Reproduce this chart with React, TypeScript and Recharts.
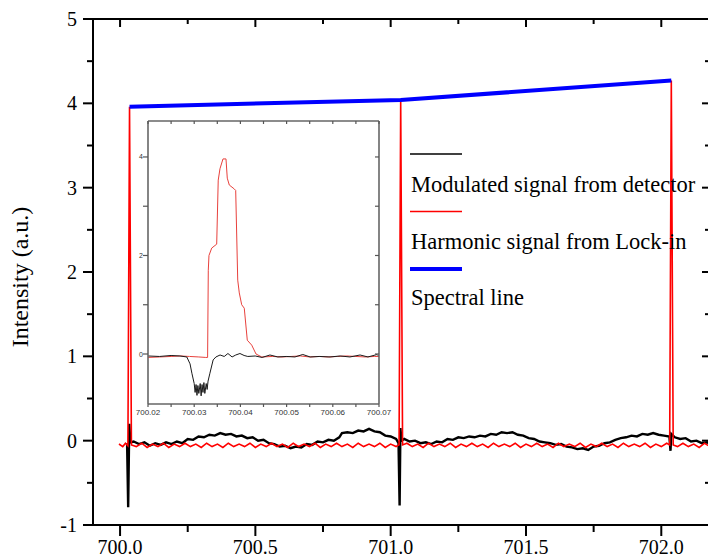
import React from 'react';
import { ComposedChart, Line, XAxis, YAxis, Legend, CartesianGrid } from 'recharts';

// ---------- main chart data ----------
const mainXTicks = [700, 700.25, 700.5, 700.75, 701, 701.25, 701.5, 701.75, 702];
const mainYTicks = [-1, -0.5, 0, 0.5, 1, 1.5, 2, 2.5, 3, 3.5, 4, 4.5, 5];

const modulatedSignal: [number, number][] = [
  [700.026, -0.03], [700.030, -0.79], [700.034, 0.2], [700.038, -0.02],
  [700.05, -0.01], [700.07, -0.04], [700.09, -0.02], [700.11, -0.06], [700.13, -0.03], [700.15, -0.05],
  [700.17, -0.02], [700.19, -0.04], [700.21, -0.01], [700.23, -0.03], [700.25, 0.02], [700.27, 0.01],
  [700.29, 0.05], [700.31, 0.04], [700.33, 0.07], [700.35, 0.06], [700.37, 0.09], [700.39, 0.07],
  [700.41, 0.08], [700.43, 0.05], [700.45, 0.06], [700.47, 0.03], [700.49, 0.04], [700.51, 0.0],
  [700.53, 0.01], [700.55, -0.03], [700.57, -0.04], [700.59, -0.07], [700.61, -0.06], [700.63, -0.09],
  [700.65, -0.07], [700.67, -0.08], [700.69, -0.04], [700.71, -0.05], [700.73, -0.01], [700.75, -0.02],
  [700.77, 0.01], [700.79, 0.0], [700.81, 0.04], [700.82, 0.09], [700.84, 0.1], [700.86, 0.09],
  [700.88, 0.12], [700.90, 0.11], [700.92, 0.14], [700.94, 0.11], [700.96, 0.1], [700.98, 0.06],
  [701.00, 0.05], [701.02, 0.02], [701.029, -0.03], [701.033, -0.77], [701.036, 0.15], [701.04, 0.0],
  [701.05, 0.02], [701.07, -0.01], [701.09, 0.0], [701.11, -0.03], [701.13, -0.02], [701.15, -0.04],
  [701.17, -0.01], [701.19, -0.02], [701.21, 0.02], [701.23, 0.01], [701.25, 0.04], [701.27, 0.03],
  [701.29, 0.05], [701.31, 0.04], [701.33, 0.06], [701.35, 0.05], [701.37, 0.08], [701.39, 0.07],
  [701.41, 0.1], [701.43, 0.09], [701.45, 0.1], [701.47, 0.07], [701.49, 0.06], [701.51, 0.03],
  [701.53, 0.02], [701.55, -0.01], [701.57, -0.02], [701.59, -0.03], [701.61, -0.05], [701.63, -0.04],
  [701.65, -0.07], [701.67, -0.08], [701.69, -0.1], [701.71, -0.09], [701.73, -0.11], [701.75, -0.07],
  [701.77, -0.06], [701.79, -0.03], [701.81, -0.02], [701.83, 0.01], [701.85, 0.03], [701.87, 0.04],
  [701.89, 0.06], [701.91, 0.05], [701.93, 0.08], [701.95, 0.07], [701.97, 0.09], [701.99, 0.07],
  [702.01, 0.06], [702.03, 0.05], [702.034, -0.12], [702.037, 0.08], [702.05, 0.04], [702.07, 0.02],
  [702.09, 0.03], [702.11, -0.01], [702.13, 0.0], [702.15, -0.03], [702.17, -0.02], [702.18, -0.04],
];

const harmonicSignal: [number, number][] = [
  [699.996, -0.04], [700.01, -0.07], [700.02, -0.03], [700.029, -0.06], [700.035, 3.96], [700.042, -0.05],
  [700.06, -0.07], [700.08, -0.03], [700.10, -0.08], [700.12, -0.04], [700.14, -0.07], [700.16, -0.03],
  [700.18, -0.08], [700.20, -0.04], [700.22, -0.07], [700.24, -0.03], [700.26, -0.07], [700.28, -0.04],
  [700.30, -0.08], [700.32, -0.03], [700.34, -0.07], [700.36, -0.04], [700.38, -0.08], [700.40, -0.03],
  [700.42, -0.07], [700.44, -0.04], [700.46, -0.07], [700.48, -0.03], [700.50, -0.08], [700.52, -0.04],
  [700.54, -0.07], [700.56, -0.03], [700.58, -0.07], [700.60, -0.04], [700.62, -0.08], [700.64, -0.03],
  [700.66, -0.07], [700.68, -0.04], [700.70, -0.07], [700.72, -0.03], [700.74, -0.08], [700.76, -0.04],
  [700.78, -0.07], [700.80, -0.03], [700.82, -0.07], [700.84, -0.04], [700.86, -0.08], [700.88, -0.03],
  [700.90, -0.07], [700.92, -0.04], [700.94, -0.07], [700.96, -0.03], [700.98, -0.08], [701.00, -0.04],
  [701.02, -0.07], [701.031, -0.05], [701.037, 4.04], [701.044, -0.05], [701.06, -0.03], [701.08, -0.07],
  [701.10, -0.04], [701.12, -0.08], [701.14, -0.03], [701.16, -0.07], [701.18, -0.04], [701.20, -0.07],
  [701.22, -0.03], [701.24, -0.08], [701.26, -0.04], [701.28, -0.07], [701.30, -0.03], [701.32, -0.07],
  [701.34, -0.04], [701.36, -0.08], [701.38, -0.03], [701.40, -0.07], [701.42, -0.04], [701.44, -0.07],
  [701.46, -0.03], [701.48, -0.08], [701.50, -0.04], [701.52, -0.07], [701.54, -0.03], [701.56, -0.07],
  [701.58, -0.04], [701.60, -0.08], [701.62, -0.03], [701.64, -0.07], [701.66, -0.04], [701.68, -0.07],
  [701.70, -0.03], [701.72, -0.08], [701.74, -0.04], [701.76, -0.07], [701.78, -0.03], [701.80, -0.07],
  [701.82, -0.04], [701.84, -0.08], [701.86, -0.03], [701.88, -0.07], [701.90, -0.04], [701.92, -0.07],
  [701.94, -0.03], [701.96, -0.08], [701.98, -0.04], [702.00, -0.07], [702.02, -0.03], [702.031, -0.05],
  [702.037, 4.27], [702.044, -0.05], [702.06, -0.07], [702.08, -0.03], [702.10, -0.07], [702.12, -0.04],
  [702.14, -0.08], [702.16, -0.03], [702.18, -0.07],
];

const spectralLine: [number, number][] = [
  [700.035, 3.96], [701.037, 4.04], [702.037, 4.27],
];

// ---------- inset data ----------
const insetXTicks = [700.02, 700.025, 700.03, 700.035, 700.04, 700.045, 700.05, 700.055, 700.06, 700.065, 700.07];
const insetYTicks = [0, 1, 2, 3, 4];

const insetHarmonic: [number, number][] = [
  [700.02, -0.07], [700.0225, -0.06], [700.025, -0.05], [700.027, -0.04], [700.029, -0.05], [700.031, -0.06],
  [700.0325, -0.07], [700.0329, -0.07], [700.03305, 1.7], [700.0332, 2.0], [700.03379, 2.15], [700.03487, 2.23],
  [700.0352, 3.53], [700.03558, 3.76], [700.03623, 3.96], [700.03688, 3.96], [700.03716, 3.57], [700.0376, 3.43],
  [700.03868, 3.35], [700.03898, 3.32], [700.03942, 1.5], [700.03976, 1.24], [700.04028, 1.0], [700.04084, 0.93],
  [700.04149, 0.28], [700.04245, 0.18], [700.04338, 0.0], [700.04461, -0.06], [700.047, -0.05], [700.049, -0.06],
  [700.051, -0.05], [700.053, -0.04], [700.055, -0.06], [700.057, -0.05], [700.059, -0.06], [700.061, -0.05],
  [700.063, -0.04], [700.065, -0.05], [700.067, -0.06], [700.069, -0.05], [700.07, -0.05],
];

const insetModulated: [number, number][] = [
  [700.02, -0.04], [700.0225, -0.05], [700.025, -0.03], [700.0269, -0.04], [700.0284, -0.06], [700.0291, -0.2],
  [700.0295, -0.39], [700.03, -0.6], [700.0302, -0.78], [700.0304, -0.62], [700.0306, -0.84], [700.0308, -0.64],
  [700.031, -0.8], [700.0313, -0.6], [700.0315, -0.85], [700.0317, -0.62], [700.0319, -0.78], [700.0321, -0.58],
  [700.0323, -0.8], [700.0326, -0.6], [700.0328, -0.72], [700.033, -0.55], [700.0334, -0.39], [700.0341, -0.12],
  [700.0347, -0.06], [700.0356, -0.02], [700.0365, -0.05], [700.0373, 0.01], [700.0382, -0.06], [700.039, -0.02],
  [700.0399, 0.01], [700.0408, -0.03], [700.0416, -0.05], [700.0432, -0.04], [700.0447, -0.07], [700.0464, -0.02],
  [700.0481, -0.06], [700.0499, -0.05], [700.0518, -0.06], [700.0535, -0.01], [700.0551, -0.06], [700.0572, -0.05],
  [700.0594, -0.06], [700.0616, -0.04], [700.0637, -0.06], [700.0659, -0.02], [700.0676, -0.06], [700.0696, -0.01],
  [700.07, -0.05],
];

const legendItems = [
  { name: 'Modulated signal from detector', color: '#000000', width: 1.3 },
  { name: 'Harmonic signal from Lock-in', color: '#ff0000', width: 1.3 },
  { name: 'Spectral line', color: '#0000ff', width: 4 },
];

const toRows = (arr: [number, number][]) => arr.map(([x, y]) => ({ x, y }));

const SERIF = 'Liberation Serif, Times New Roman, serif';
const SANS = 'Liberation Sans, Arial, sans-serif';

// ---------- tick renderers ----------
const MainBottomTick = (props: any) => {
  const { x, y, payload } = props;
  const v = payload.value;
  const major = Math.round(v * 100) % 50 === 0;
  return (
    <g>
      <line x1={x} x2={x} y1={y} y2={y + (major ? 11 : 7)} stroke="#000" strokeWidth={2} />
      {major && (
        <text x={x} y={y + 29} textAnchor="middle" style={{ fontFamily: SERIF, fontSize: 20 }} fill="#000">
          {v.toFixed(1)}
        </text>
      )}
    </g>
  );
};

const MainTopTick = (props: any) => {
  const { x, y, payload } = props;
  const major = Math.round(payload.value * 100) % 50 === 0;
  return <line x1={x} x2={x} y1={y} y2={y + (major ? 8 : 5)} stroke="#000" strokeWidth={2} />;
};

const MainLeftTick = (props: any) => {
  const { x, y, payload } = props;
  const v = payload.value;
  const major = Number.isInteger(v);
  return (
    <g>
      <line x1={x} x2={x - (major ? 10 : 6)} y1={y} y2={y} stroke="#000" strokeWidth={2} />
      {major && (
        <text x={x - 16} y={y + 7} textAnchor="end" style={{ fontFamily: SERIF, fontSize: 20 }} fill="#000">
          {v}
        </text>
      )}
    </g>
  );
};

const MainRightTick = (props: any) => {
  const { x, y, payload } = props;
  const major = Number.isInteger(payload.value);
  return <line x1={x} x2={x - (major ? 8 : 5)} y1={y} y2={y} stroke="#000" strokeWidth={2} />;
};

const InsetBottomTick = (props: any) => {
  const { x, y, payload } = props;
  const v = payload.value;
  const major = Math.round(v * 1000) % 10 === 0;
  return (
    <g>
      <line x1={x} x2={x} y1={y} y2={y + 3} stroke="#555" strokeWidth={1.2} />
      {major && (
        <text x={x} y={y + 11} textAnchor="middle" style={{ fontFamily: SANS, fontSize: 8 }} fill="#333">
          {v.toFixed(2)}
        </text>
      )}
    </g>
  );
};

const InsetTopTick = (props: any) => {
  const { x, y } = props;
  return <line x1={x} x2={x} y1={y} y2={y + 3} stroke="#555" strokeWidth={1.2} />;
};

const InsetLeftTick = (props: any) => {
  const { x, y, payload } = props;
  const v = payload.value;
  const major = Math.round(v) % 2 === 0;
  return (
    <g>
      <line x1={x} x2={x - 5} y1={y} y2={y} stroke="#555" strokeWidth={1.2} />
      {major && (
        <text x={x - 5} y={y + 2.5} textAnchor="end" style={{ fontFamily: SANS, fontSize: 7 }} fill="#333">
          {v}
        </text>
      )}
    </g>
  );
};

const InsetRightTick = (props: any) => {
  const { x, y } = props;
  return <line x1={x} x2={x - 4} y1={y} y2={y} stroke="#555" strokeWidth={1.2} />;
};

const YLabel = () => (
  <text
    transform="translate(28,277) rotate(-90)"
    textAnchor="middle"
    style={{ fontFamily: SERIF, fontSize: 24 }}
    fill="#000"
  >
    Intensity (a.u.)
  </text>
);

const LegendContent = () => (
  <svg width={300} height={175} style={{ display: 'block', overflow: 'visible' }}>
    {legendItems.map((it, i) => (
      <g key={it.name}>
        <line x1={0} x2={52} y1={14 + i * 57.5} y2={14 + i * 57.5} stroke={it.color} strokeWidth={it.width} />
        <text x={1} y={52 + i * 56.5} style={{ fontFamily: SERIF, fontSize: 22.5 }} fill="#000">
          {it.name}
        </text>
      </g>
    ))}
  </svg>
);

export default function App() {
  const axisLine = { stroke: '#000', strokeWidth: 2 };
  const insetAxisLine = { stroke: '#666', strokeWidth: 1.6 };
  return (
    <div style={{ position: 'fixed', left: 0, top: 0, width: 708, height: 558, overflow: 'hidden', background: '#fff' }}>
      <div style={{ position: 'absolute', left: 0, top: 0 }}>
        <ComposedChart width={720} height={558} margin={{ top: 9, right: 0, bottom: 0, left: 33 }}>
          <XAxis
            xAxisId="b"
            type="number"
            dataKey="x"
            domain={[699.9, 702.18]}
            allowDataOverflow
            ticks={mainXTicks}
            interval={0}
            height={33}
            tickSize={0}
            tickMargin={0}
            tickLine={false}
            axisLine={axisLine}
            tick={<MainBottomTick />}
          />
          <XAxis
            xAxisId="t"
            orientation="top"
            type="number"
            dataKey="x"
            domain={[699.9, 702.18]}
            allowDataOverflow
            ticks={mainXTicks}
            interval={0}
            height={10}
            tickSize={0}
            tickMargin={0}
            tickLine={false}
            axisLine={axisLine}
            tick={<MainTopTick />}
          />
          <YAxis
            yAxisId="l"
            type="number"
            domain={[-1, 5]}
            allowDataOverflow
            ticks={mainYTicks}
            interval={0}
            width={60}
            tickSize={0}
            tickMargin={0}
            tickLine={false}
            axisLine={axisLine}
            tick={<MainLeftTick />}
            label={<YLabel />}
          />
          <YAxis
            yAxisId="r"
            orientation="right"
            type="number"
            domain={[-1, 5]}
            allowDataOverflow
            ticks={mainYTicks}
            interval={0}
            width={10}
            tickSize={0}
            tickMargin={0}
            tickLine={false}
            axisLine={axisLine}
            tick={<MainRightTick />}
          />
          <Line
            xAxisId="b"
            yAxisId="l"
            data={toRows(modulatedSignal)}
            dataKey="y"
            stroke="#000"
            strokeWidth={2.4}
            dot={false}
            isAnimationActive={false}
            name="Modulated signal from detector"
          />
          <Line
            xAxisId="b"
            yAxisId="l"
            data={toRows(harmonicSignal)}
            dataKey="y"
            stroke="#ff0000"
            strokeWidth={1.6}
            dot={false}
            isAnimationActive={false}
            name="Harmonic signal from Lock-in"
          />
          <Line
            xAxisId="t"
            yAxisId="r"
            data={toRows(spectralLine)}
            dataKey="y"
            stroke="#0000ff"
            strokeWidth={4}
            dot={false}
            isAnimationActive={false}
            name="Spectral line"
          />
          <Legend
            layout="vertical"
            align="center"
            verticalAlign="middle"
            content={<LegendContent />}
            wrapperStyle={{ position: 'absolute', left: 410, top: 140, width: 300, height: 175 }}
          />
        </ComposedChart>
      </div>
      <div style={{ position: 'absolute', left: 118, top: 111 }}>
        <ComposedChart width={281} height={313} margin={{ top: 5, right: 15, bottom: 0, left: 0 }}>
          <CartesianGrid horizontal={false} vertical={false} fill="#ffffff" xAxisId="b" yAxisId="l" />
          <XAxis
            xAxisId="b"
            type="number"
            dataKey="x"
            domain={[700.02, 700.07]}
            allowDataOverflow
            ticks={insetXTicks}
            interval={0}
            height={20}
            tickSize={0}
            tickMargin={0}
            tickLine={false}
            axisLine={insetAxisLine}
            tick={<InsetBottomTick />}
          />
          <XAxis
            xAxisId="t"
            orientation="top"
            type="number"
            dataKey="x"
            domain={[700.02, 700.07]}
            allowDataOverflow
            ticks={insetXTicks}
            interval={0}
            height={5}
            tickSize={0}
            tickMargin={0}
            tickLine={false}
            axisLine={insetAxisLine}
            tick={<InsetTopTick />}
          />
          <YAxis
            yAxisId="l"
            type="number"
            domain={[-1.015, 4.73]}
            allowDataOverflow
            ticks={insetYTicks}
            interval={0}
            width={30}
            tickSize={0}
            tickMargin={0}
            tickLine={false}
            axisLine={insetAxisLine}
            tick={<InsetLeftTick />}
          />
          <YAxis
            yAxisId="r"
            orientation="right"
            type="number"
            domain={[-1.015, 4.73]}
            allowDataOverflow
            ticks={insetYTicks}
            interval={0}
            width={5}
            tickSize={0}
            tickMargin={0}
            tickLine={false}
            axisLine={insetAxisLine}
            tick={<InsetRightTick />}
          />
          <Line
            xAxisId="b"
            yAxisId="l"
            data={toRows(insetHarmonic)}
            dataKey="y"
            stroke="#e8413c"
            strokeWidth={1}
            dot={false}
            isAnimationActive={false}
          />
          <Line
            xAxisId="t"
            yAxisId="r"
            data={toRows(insetModulated)}
            dataKey="y"
            stroke="#1a1a1a"
            strokeWidth={1}
            dot={false}
            isAnimationActive={false}
          />
        </ComposedChart>
      </div>
    </div>
  );
}
